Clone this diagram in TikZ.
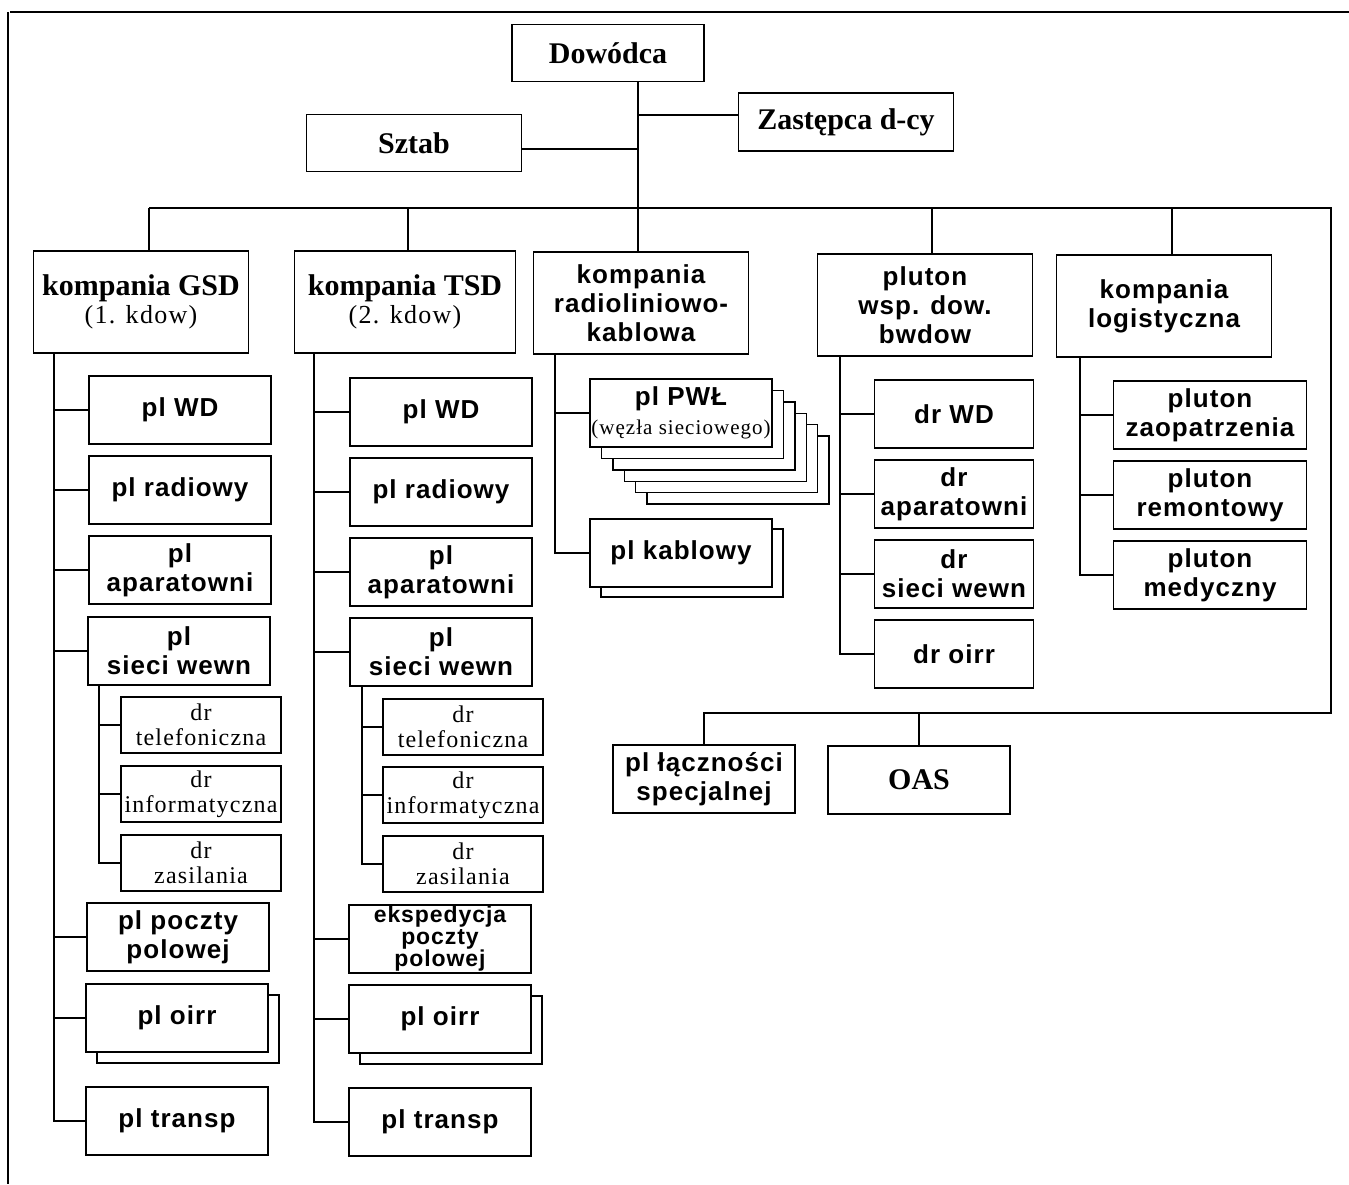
\documentclass[tikz,border=0pt]{standalone}
\usepackage{fontspec}
\setmainfont{Liberation Serif}
\newfontfamily\sbf[LetterSpace=4]{Liberation Sans}
\newfontfamily\srs[LetterSpace=5]{Liberation Serif}
\usetikzlibrary{calc}

\begin{document}
\begin{tikzpicture}
  [x=0.5pt,y=-0.5pt,
   unit/.style={draw,fill=white,line width=0.7pt,align=center,inner sep=0pt},
   head/.style={unit,minimum width=107.5pt,minimum height=28.5pt,font=\bfseries\fontsize{15}{14}\selectfont},
   comp/.style={unit,minimum width=107.5pt,minimum height=51pt,font=\sbf\bfseries\fontsize{13}{14.5}\selectfont},
   plut/.style={unit,minimum width=91pt,minimum height=34pt,font=\sbf\bfseries\fontsize{13}{14.5}\selectfont},
   druz/.style={unit,minimum width=80pt,minimum height=28pt,font=\srs\fontsize{12}{12.5}\selectfont},
   wire/.style={line width=0.7pt}]

  \useasboundingbox (0,0) rectangle (1349,1184);
  \draw[line width=1pt] (10,12) -- (1349,12);
  \draw[line width=1pt] (8,12) -- (8,1184);

  % command level
  \node[head,minimum width=96pt] (dow) at (608,53)  {Dowódca};
  \node[head,minimum height=29pt] (zas) at (846,122) {Zastępca d-cy};
  \node[head] (szt) at (414,143) {Sztab};

  % companies
  \node[comp,font=\bfseries\fontsize{15}{14}\selectfont] (gsd) at (141,302)
    {kompania GSD\\{\srs\mdseries\fontsize{13}{14}\selectfont(1. kdow)}};
  \node[comp,minimum width=110.5pt,font=\bfseries\fontsize{15}{14}\selectfont] (tsd) at (405,302)
    {kompania TSD\\{\srs\mdseries\fontsize{13}{14}\selectfont(2. kdow)}};
  \node[comp] (rlk) at (641,303) {kompania\\radioliniowo-\\kablowa};
  \node[comp] (wsp) at (925,305) {pluton\\wsp. dow.\\bwdow};
  \node[comp] (log) at (1164,306) {kompania\\logistyczna};

  % kompania GSD
  \node[plut] (gwd)  at (180,410) {pl WD};
  \node[plut] (grad) at (180,490) {pl radiowy};
  \node[plut] (gapa) at (180,570) {pl\\aparatowni};
  \node[plut] (gsie) at (179,651) {pl\\sieci wewn};
  \node[druz] (gtel) at (201,725) {dr\\telefoniczna};
  \node[druz] (ginf) at (201,794) {dr\\informatyczna};
  \node[druz] (gzas) at (201,863) {dr\\zasilania};
  \node[plut] (gpoc) at (178,937) {pl poczty\\polowej};
  \node[plut] (goirS) at (188,1029) {};
  \node[plut] (goir) at (177,1018) {pl oirr};
  \node[plut] (gtra) at (177,1121) {pl transp};

  % kompania TSD
  \node[plut] (twd)  at (441,412) {pl WD};
  \node[plut] (trad) at (441,492) {pl radiowy};
  \node[plut] (tapa) at (441,572) {pl\\aparatowni};
  \node[plut] (tsie) at (441,652) {pl\\sieci wewn};
  \node[druz] (ttel) at (463,727) {dr\\telefoniczna};
  \node[druz] (tinf) at (463,795) {dr\\informatyczna};
  \node[druz] (tzas) at (463,864) {dr\\zasilania};
  \node[plut,font=\sbf\bfseries\fontsize{11.5}{11}\selectfont] (teks) at (440,939) {ekspedycja\\poczty\\polowej};
  \node[plut] (toirS) at (451,1030) {};
  \node[plut] (toir) at (440,1019) {pl oirr};
  \node[plut] (ttra) at (440,1122) {pl transp};

  % kompania radioliniowo-kablowa
  \foreach \k in {5,4,...,1}
    \node[plut] (pwl\k) at ({681+11.4*\k},{413+11.4*\k}) {};
  \node[plut] (pwl) at (681,413)
    {pl PWŁ\\{\srs\mdseries\fontsize{10.5}{11}\selectfont(węzła sieciowego)}};
  \node[plut] (kabS) at (692,563) {};
  \node[plut] (kab) at (681,553) {pl kablowy};

  % pluton wsp. dow.
  \node[plut,minimum width=79.5pt] (dwd)  at (954,414) {dr WD};
  \node[plut,minimum width=79.5pt] (dapa) at (954,494) {dr\\aparatowni};
  \node[plut,minimum width=79.5pt] (dsie) at (954,574) {dr\\sieci wewn};
  \node[plut,minimum width=79.5pt] (doir) at (954,654) {dr oirr};

  % kompania logistyczna
  \node[plut,minimum width=96.5pt] (zao) at (1210,415) {pluton\\zaopatrzenia};
  \node[plut,minimum width=96.5pt] (rem) at (1210,495) {pluton\\remontowy};
  \node[plut,minimum width=96.5pt] (med) at (1210,575) {pluton\\medyczny};

  % bottom
  \node[plut] (pls) at (704,779) {pl łączności\\specjalnej};
  \node[plut,font=\bfseries\fontsize{15}{14}\selectfont] (oas) at (919,780) {OAS};

  % connectors
  \coordinate (top) at (dow.south -| 638,0);
  \coordinate (jz) at (638,115);
  \coordinate (js) at (638,149);
  \coordinate (busL) at (149,208);
  \coordinate (busR) at (1331,208);
  \coordinate (busRB) at (1331,713);
  \coordinate (busB) at (704,713);
  \coordinate (jo) at (919,713);
  \draw[wire] (top) -- (638,208);
  \draw[wire] (jz) -- (jz -| zas.west);
  \draw[wire] (js) -- (js -| szt.east);
  \draw[wire] (busL) -- (busR) -- (busRB) -- (busB) -- (pls.north);
  \draw[wire] (jo) -- (oas.north);
  \foreach \c/\x in {gsd/149,tsd/408,rlk/638,wsp/932,log/1172}
    \draw[wire] (\x,208) -- (\c.north -| \x,0);

  \coordinate (gx) at (gsd.south -| 54,0);
  \coordinate (gy) at (gsie.south -| 99,0);
  \coordinate (tx) at (tsd.south -| 314,0);
  \coordinate (ty) at (tsie.south -| 362,0);
  \coordinate (rx) at (rlk.south -| 555,0);
  \coordinate (wx) at (wsp.south -| 840,0);
  \coordinate (lx) at (log.south -| 1080,0);
  \foreach \c in {gwd,grad,gapa,gsie,gpoc,goir,gtra}
    \draw[wire] (gx) |- (\c.west);
  \foreach \c in {gtel,ginf,gzas}
    \draw[wire] (gy) |- (\c.west);
  \foreach \c in {twd,trad,tapa,tsie,teks,toir,ttra}
    \draw[wire] (tx) |- (\c.west);
  \foreach \c in {ttel,tinf,tzas}
    \draw[wire] (ty) |- (\c.west);
  \foreach \c in {pwl,kab}
    \draw[wire] (rx) |- (\c.west);
  \foreach \c in {dwd,dapa,dsie,doir}
    \draw[wire] (wx) |- (\c.west);
  \foreach \c in {zao,rem,med}
    \draw[wire] (lx) |- (\c.west);
\end{tikzpicture}
\end{document}
